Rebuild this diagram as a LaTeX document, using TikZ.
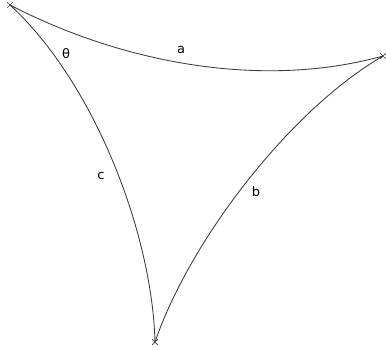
\documentclass[tikz,border=0pt]{standalone}
\usepackage{fontspec}
\setmainfont{DejaVu Sans}
\usepackage{tikz}
\usetikzlibrary{shapes.misc}
\definecolor{ArcInk}{HTML}{3A3A3A}

\begin{document}
\begin{tikzpicture}[
    x=1pt, y=-1pt,
    vertex/.style={cross out, draw=ArcInk, line width=0.7pt, minimum size=5pt,
      inner sep=0pt},
    arc/.style={draw=ArcInk, line width=0.85pt},
    lbl/.style={font=\fontsize{13}{15}\selectfont, text=black}
  ]
    \useasboundingbox (0,0) rectangle (386,349);
    \node[vertex] (A) at (10,5) {};
    \node[vertex] (B) at (383,56) {};
    \node[vertex] (C) at (155,342) {};
    \draw[arc] (A.center) .. controls (120,62) and (260,90) .. (B.center);
    \draw[arc] (A.center) .. controls (92,80) and (152,230) .. (C.center);
    \draw[arc] (B.center) .. controls (290,110) and (190,240) .. (C.center);
    \node[lbl] (la) at (181,50) {a};
    \node[lbl] (lb) at (256,192) {b};
    \node[lbl] (lc) at (101,176) {c};
    \node[lbl] (lt) at (66,54) {θ};
  \end{tikzpicture}
\end{document}
